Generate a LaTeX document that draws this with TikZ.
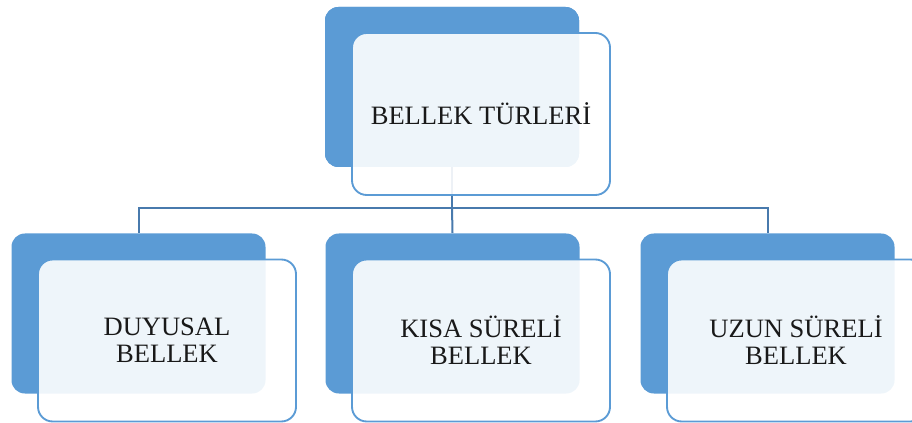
\documentclass[tikz,border=0pt]{standalone}
\usepackage{fontspec}
\setmainfont{Liberation Serif}
\usetikzlibrary{calc,backgrounds}
\definecolor{boxblue}{HTML}{5B9BD5}
\definecolor{linkblue}{RGB}{72,122,173}

\begin{document}
\begin{tikzpicture}[x=0.75pt,y=-0.75pt,
  front/.style={draw=boxblue,line width=1.4pt,rounded corners=11pt,fill=white,
    fill opacity=0.9,text opacity=1,minimum width=193.5pt,minimum height=121.5pt,
    align=center,font=\fontsize{19.9pt}{20.3pt}\selectfont,text=black!90},
  back/.style={fill=boxblue,rounded corners=10pt,minimum width=190.5pt,
    minimum height=120pt,inner sep=0pt},
  link/.style={draw=linkblue,line width=1.5pt}]
%%Frame
\useasboundingbox (0,0) rectangle (912,423);
\clip (0,0) rectangle (912,423);

%%Boxes
\node[front] (top) at (481,114) {BELLEK TÜRLERİ};
\node[front] (duyusal) at (167,340.5) {DUYUSAL\\BELLEK};
\node[front] (kisa) at (481,340.5) {KISA SÜRELİ\\BELLEK};
\node[front] (uzun) at (796,340.5) {UZUN SÜRELİ\\BELLEK};

\begin{pgfonlayer}{background}
%%Links
\coordinate (bus) at (452,208);
\node[back] (topback) at ($(top)+(-29,-27)$) {};
\node[back,fill=none] (duyusalback) at ($(duyusal)+(-28.5,-27)$) {};
\node[back,fill=none] (kisaback) at ($(kisa)+(-28.5,-27)$) {};
\node[back,fill=none] (uzunback) at ($(uzun)+(-28.5,-27)$) {};
\draw[link] (topback.south) -- (bus);
\draw[link] (bus) -| (duyusalback.north);
\draw[link] (bus) -- (kisaback.north);
\draw[link] (bus) -| (uzunback.north);

%%Back panels
\node[back] at (topback) {};
\node[back] at (duyusalback) {};
\node[back] at (kisaback) {};
\node[back] at (uzunback) {};
\end{pgfonlayer}
\end{tikzpicture}
\end{document}
